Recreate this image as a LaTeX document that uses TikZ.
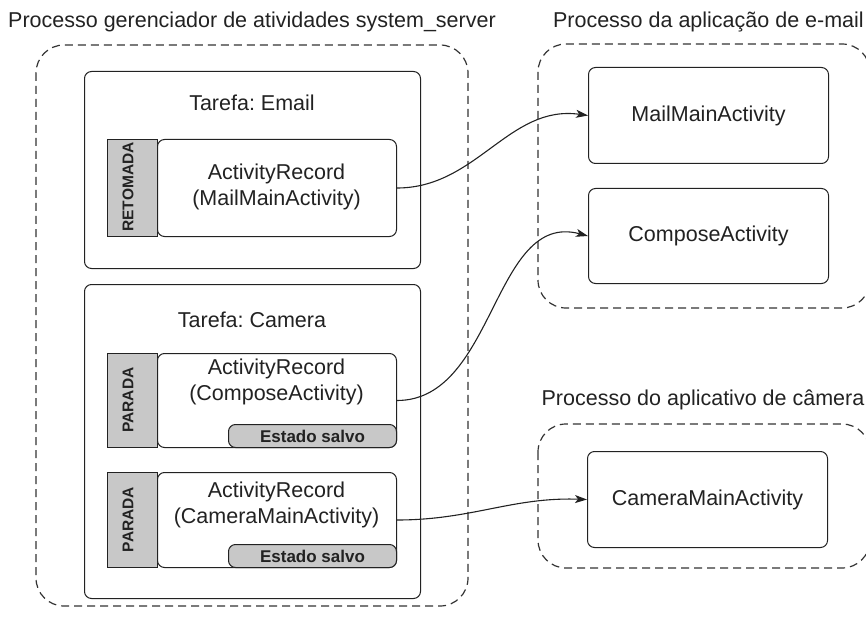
\documentclass[tikz,border=0pt]{standalone}
\usepackage{fontspec}
\setmainfont{Liberation Sans}
\usetikzlibrary{arrows.meta}
\definecolor{ink}{HTML}{222222}
\definecolor{dash}{HTML}{333333}
\definecolor{tagfill}{HTML}{C8C8C8}
\frenchspacing
\begin{document}
\begin{tikzpicture}[x=1pt,y=-1pt,
  proc/.style={draw=dash, dash pattern=on 8pt off 5pt, rounded corners=28pt, line width=1.2pt},
  taskbox/.style={draw=ink, fill=white, rounded corners=7pt, line width=1pt, anchor=north west, inner sep=0pt},
  tagbox/.style={draw=ink, fill=tagfill, line width=1pt, anchor=north west, inner sep=0pt},
  recbox/.style={draw=ink, fill=white, rounded corners=7pt, line width=1pt, anchor=north west, inner sep=0pt},
  savebox/.style={draw=ink, fill=tagfill, rounded corners=7pt, line width=1pt, anchor=south east, inner sep=0pt,
    minimum width=168pt, minimum height=23pt},
  actbox/.style={draw=ink, fill=white, rounded corners=7pt, line width=1pt, anchor=north west, inner sep=0pt,
    minimum width=240pt, minimum height=96pt},
  txt/.style={text=ink, font=\fontsize{21.5}{26}\selectfont, align=center, inner sep=0pt},
  tagtxt/.style={text=ink, font=\bfseries\fontsize{15.5}{18}\selectfont, rotate=90, inner sep=0pt},
  savetxt/.style={text=ink, font=\bfseries\fontsize{17}{20}\selectfont, inner sep=0pt},
  conn/.style={draw=ink, line width=1.1pt, -{Stealth[length=12pt,width=8pt,inset=3pt]}}
]
\useasboundingbox (0,0) rectangle (866,620);
\clip (0,0) rectangle (866,620);

% process boxes
\node[txt, anchor=west] (t1) at (8,22) {Processo gerenciador de atividades system\_server};
\node[txt, anchor=east] (t2) at (864,22) {Processo da aplicação de e-mail};
\node[txt, anchor=east] (t3) at (864.5,400) {Processo do aplicativo de câmera};
\draw[proc] (36,45) rectangle (468,606);
\draw[proc] (538,44) rectangle (870,308);
\draw[proc] (538,424) rectangle (870,568);

% task Email
\node[taskbox, minimum width=336pt, minimum height=197pt] (temail) at (84,71) {};
\node[txt] (temailt) at (252,103) {Tarefa: Email};
\node[tagbox, minimum width=50pt, minimum height=97pt] (tag1) at (107,139) {};
\node[recbox, minimum width=239pt, minimum height=97pt] (ar1) at (157,139) {};
\node[tagtxt] (tag1t) at (128,187) {RETOMADA};
\node[txt] (ar1t) at (276.5,187) {ActivityRecord\\(MailMainActivity)};

% task Camera
\node[taskbox, minimum width=336pt, minimum height=314pt] (tcam) at (84,284) {};
\node[txt] (tcamt) at (252,320) {Tarefa: Camera};
\node[tagbox, minimum width=50pt, minimum height=94pt] (tag2) at (107,353) {};
\node[recbox, minimum width=239pt, minimum height=94pt] (ar2) at (157,353) {};
\node[tagtxt] (tag2t) at (128,400) {PARADA};
\node[txt] (ar2t) at (276.5,382) {ActivityRecord\\(ComposeActivity)};
\node[savebox] (s2) at (ar2.south east) {};
\node[savetxt] (s2t) at (s2.center) {Estado salvo};

\node[tagbox, minimum width=50pt, minimum height=95pt] (tag3) at (107,472) {};
\node[recbox, minimum width=239pt, minimum height=95pt] (ar3) at (157,472) {};
\node[tagtxt] (tag3t) at (128,519.5) {PARADA};
\node[txt] (ar3t) at (276.5,505) {ActivityRecord\\(CameraMainActivity)};
\node[savebox] (s3) at (ar3.south east) {};
\node[savetxt] (s3t) at (s3.center) {Estado salvo};

% app activities
\node[actbox] (mail) at (588,67) {};
\node[txt] (mailt) at (mail.center) {MailMainActivity};
\node[actbox, minimum height=95pt] (compose) at (588,188) {};
\node[txt] (composet) at (compose.center) {ComposeActivity};
\node[actbox] (camera) at (587,451) {};
\node[txt] (camerat) at (camera.center) {CameraMainActivity};

% connectors
\draw[conn] (ar1.east) to[out=0,in=172] (mail.west);
\draw[conn] (ar2.east) to[out=0,in=165] (compose.west);
\draw[conn] (ar3.east) to[out=0,in=178] (camera.west);
\end{tikzpicture}
\end{document}
